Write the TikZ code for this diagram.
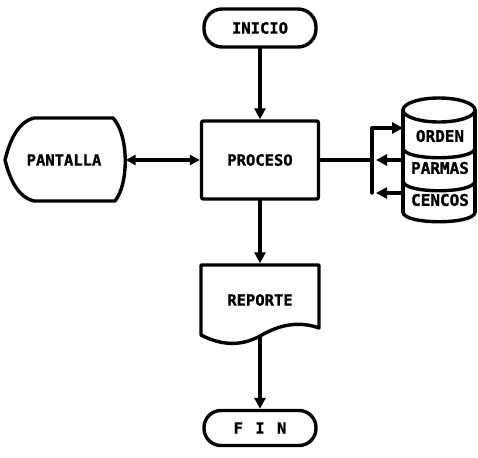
\documentclass[tikz,border=0pt]{standalone}
\usepackage{fontspec}
\setmonofont{DejaVu Sans Mono}[BoldFeatures={FakeBold=1.2}]
\usetikzlibrary{arrows.meta}
\begin{document}
\begin{tikzpicture}[x=1pt,y=-1pt,
  line width=3.4pt, line join=round, line cap=round,
  lbl/.style={font=\ttfamily\bfseries\fontsize{15.5}{16}\selectfont, inner sep=0pt},
  dlbl/.style={font=\ttfamily\bfseries\fontsize{16}{16}\selectfont, inner sep=0pt},
  term/.style={draw, rounded corners=18pt, minimum width=112pt, minimum height=38pt, lbl},
  procbox/.style={draw, rounded corners=2pt, minimum width=117pt, minimum height=78pt, lbl},
  ghost/.style={lbl, minimum width=#1, minimum height=70pt},
  flow/.style={-{Triangle[length=11pt,width=11pt]}},
  both/.style={{Triangle[length=10pt,width=10pt]}-{Triangle[length=10pt,width=10pt]}}]
\useasboundingbox (0,0) rectangle (478,457);

% terminals and process
\node[term] (ini) at (260,28) {INICIO};
\node[procbox] (pro) at (260,160) {PROCESO};
\node[term, minimum height=35pt, rounded corners=17pt] (fin) at (260,428)
  {F\hspace{0.8em}I\hspace{0.8em}N};

% display symbol
\node[ghost=120pt] (pan) at (64,160) {PANTALLA};
\draw (5,160) .. controls (10,140) and (18,122) .. (34,118) -- (113,118)
  .. controls (129,135) and (129,184) .. (115,201) -- (34,201)
  .. controls (18,197) and (10,180) .. cycle;

% document symbol
\node[ghost=118pt, minimum height=70pt] (rep) at (260,300) {REPORTE};
\draw (201,335) -- (201,265) -- (319,265) -- (319,328)
  .. controls (297,320) and (277,326) .. (260,336)
  .. controls (242,346) and (222,346) .. cycle;

% stacked disk files
\draw (439,110) ellipse [x radius=36, y radius=12];
\draw (403,110) -- (403,212);
\draw (475,110) -- (475,212);
\draw (403,148) .. controls (403,161) and (475,161) .. (475,148);
\draw (403,181) .. controls (403,194) and (475,194) .. (475,181);
\draw (403,212) .. controls (403,225) and (475,225) .. (475,212);
\node[dlbl] (ord) at (440,136) {ORDEN};
\node[dlbl] (par) at (440,168) {PARMAS};
\node[dlbl] (cen) at (440,200) {CENCOS};

% branch points
\coordinate (j1) at (372,128);
\coordinate (j2) at (372,160);
\coordinate (j3) at (372,193);
\coordinate (dA) at (403,128);
\coordinate (dB) at (403,160);
\coordinate (dC) at (403,193);

% connectors
\draw[flow] (ini.south) -- (pro.north);
\draw[flow] (pro.south) -- (rep.north);
\draw[flow] (rep.south) -- (fin.north);
\draw[both] (pan.east) -- (pro.west);
\draw (pro.east) -- (j2);
\draw (j1) -- (j3);
\draw[flow] (j1) -- (dA);
\draw[flow, shorten >=4pt] (dB) -- (j2);
\draw[flow, shorten >=4pt] (dC) -- (j3);
\end{tikzpicture}
\end{document}
